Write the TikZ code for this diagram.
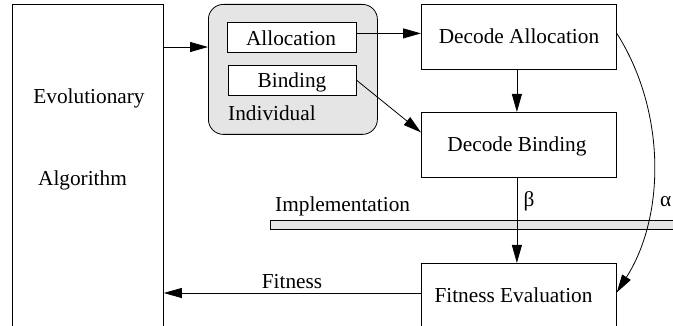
\documentclass[tikz,border=0pt]{standalone}
\usepackage{fontspec}
\setmainfont{Liberation Serif}
\newfontfamily\diagfont{Liberation Serif}
\usetikzlibrary{arrows.meta}
\begin{document}
\begin{tikzpicture}[x=1pt,y=-1pt,
  every node/.style={font=\diagfont\fontsize{21.3}{25}\selectfont},
  box/.style={draw, line width=0.8pt, inner sep=0pt, anchor=north west},
  lbl/.style={inner sep=0pt, anchor=base},
  arr/.style={-{Triangle[length=18pt,width=10pt]}, line width=0.8pt}]
\useasboundingbox (0,0) rectangle (673,326);
\clip (0,0) rectangle (673,326);

% evolutionary algorithm block (runs off the lower edge)
\node[box, minimum width=151pt, minimum height=360pt] (ea) at (12,4) {};
\node[lbl] (evo) at (89,104) {Evolutionary};
\node[lbl] (alg) at (82.5,186) {Algorithm};

% individual with its two genes
\node[box, fill=gray!20, rounded corners=15pt, minimum width=169pt, minimum height=130pt] (ind) at (208,4) {};
\node[box, fill=white, minimum width=129pt, minimum height=30pt] (alloc) at (227,22) {};
\node[lbl] (alloctxt) at (291,45.7) {Allocation};
\node[box, fill=white, minimum width=128pt, minimum height=30pt] (bind) at (228,65) {};
\node[lbl] (bindtxt) at (292,88) {Binding};
\node[lbl, anchor=base west] (indtxt) at (228,121) {Individual};

% decoding and evaluation
\node[box, minimum width=195pt, minimum height=65pt] (da) at (421,4) {};
\node[lbl] (datxt) at (519,43.3) {Decode Allocation};
\node[box, minimum width=195pt, minimum height=65pt] (db) at (421,112) {};
\node[lbl] (dbtxt) at (517,151.7) {Decode Binding};
\node[box, minimum width=195pt, minimum height=90pt] (fe) at (421,263) {};
\node[lbl] (fetxt) at (513.5,302.7) {Fitness Evaluation};

% implementation bar
\node[box, fill=gray!20, minimum width=420pt, minimum height=9pt] (bar) at (270,220) {};
\node[lbl, anchor=base west] (impl) at (275,211.7) {Implementation};
\node[lbl] (beta) at (529,206.7) {β};
\node[lbl, anchor=base west] (alpha) at (660,206.7) {α};

% connectors
\draw[arr] ([yshift=-43pt]ea.north east) -- ([yshift=-43pt]ea.north east -| ind.west);
\draw[arr] ([yshift=4pt]alloc.east) -- ([yshift=4pt]alloc.east -| da.west);
\draw[arr] (bind.east) -- ([yshift=12.5pt]db.west);
\draw[arr] ([xshift=-2pt]da.south) -- ([xshift=-2pt]db.north);
\draw[arr] ([xshift=-2pt]db.south) -- ([xshift=-2pt]fe.north);
\draw[arr] ([yshift=-30pt]fe.north west) -- ([yshift=-30pt]fe.north west -| ea.east);
\node[lbl] (fit) at (292,289) {Fitness};
\draw[arr] ([yshift=3.5pt]da.east) .. controls +(49,77) and +(49,-77) .. ([yshift=16pt]fe.east);
\end{tikzpicture}
\end{document}
